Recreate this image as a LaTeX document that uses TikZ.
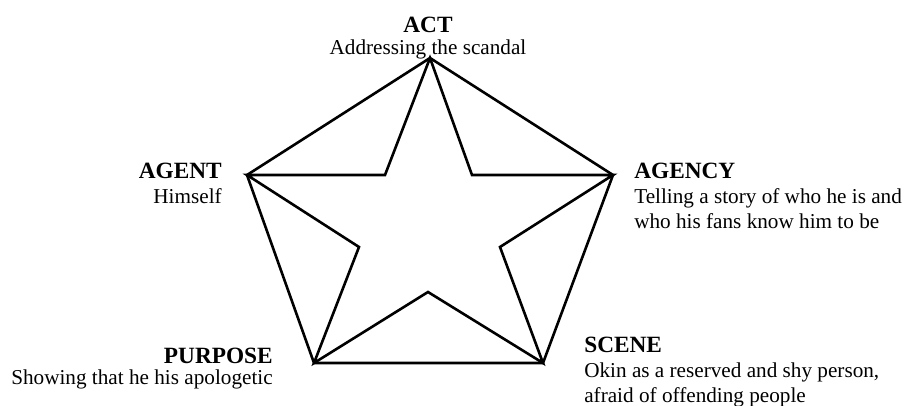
\documentclass[tikz,border=0pt]{standalone}
\usepackage{fontspec}
\setmainfont{Liberation Serif}
\usetikzlibrary{positioning}

\newcommand{\headfont}{\fontsize{23.3}{25}\selectfont\bfseries}

\begin{document}
\begin{tikzpicture}[
    x=1pt, y=-1pt,
    line width=2.6pt,
    termtext/.style={inner sep=0pt, font=\fontsize{21.2}{25}\selectfont}
]
\useasboundingbox (0,0) rectangle (906,405);

% pentad corners
\coordinate (act) at (430,58);
\coordinate (agent) at (247,175);
\coordinate (agency) at (613,175);
\coordinate (purpose) at (314,363);
\coordinate (scene) at (543,363);

% inner points of the star
\coordinate (topleft) at (385,175);
\coordinate (topright) at (472,175);
\coordinate (midleft) at (359,247);
\coordinate (midright) at (500,247);
\coordinate (bottom) at (428,292);

\draw (act) -- (agent) -- (purpose) -- (scene) -- (agency) -- cycle;
\draw (act) -- (topleft) -- (agent) -- (midleft) -- (purpose) -- (bottom)
    -- (scene) -- (midright) -- (agency) -- (topright) -- cycle;

\node[termtext, align=center, anchor=north] (actlabel) at (428,15.6)
    {{\headfont ACT}\\[-3pt]Addressing the scandal};
\node[termtext, align=right, anchor=north east] (agentlabel) at (223,161.6)
    {{\headfont AGENT}\\Himself};
\node[termtext, align=left, anchor=north west] (agencylabel) at (633,161.6)
    {{\headfont AGENCY}\\Telling a story of who he is and\\who his fans know him to be};
\node[termtext, align=right, anchor=north east] (purposelabel) at (274,346.6)
    {{\headfont PURPOSE}\\[-4pt]Showing that he his apologetic};
\node[termtext, align=left, anchor=north west] (scenelabel) at (583,335.6)
    {{\headfont SCENE}\\Okin as a reserved and shy person,\\afraid of offending people};

\end{tikzpicture}
\end{document}
